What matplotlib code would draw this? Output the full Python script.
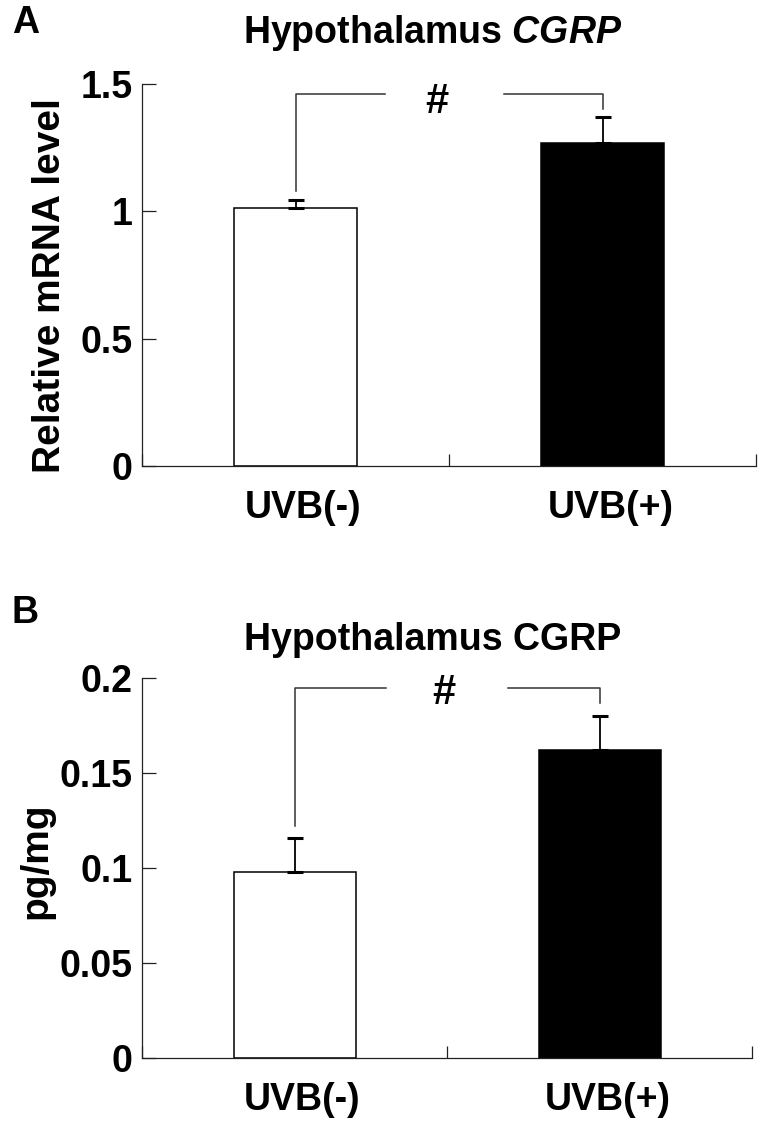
import matplotlib
matplotlib.use("Agg")
import matplotlib.pyplot as plt
import matplotlib.transforms as mtransforms

# data
groups = ["UVB(-)", "UVB(+)"]
bar_colors = ["white", "black"]

mrna_mean = [1.015, 1.27]
mrna_err = [0.03, 0.10]
mrna_ticks = [0, 0.5, 1, 1.5]
mrna_ticklabels = ["0", "0.5", "1", "1.5"]

protein_mean = [0.098, 0.162]
protein_err = [0.018, 0.018]
protein_ticks = [0, 0.05, 0.1, 0.15, 0.2]
protein_ticklabels = ["0", "0.05", "0.1", "0.15", "0.2"]

plt.rcParams["font.family"] = ["Liberation Sans", "DejaVu Sans"]
plt.rcParams["font.weight"] = "bold"
plt.rcParams["mathtext.fontset"] = "custom"
plt.rcParams["mathtext.it"] = "Liberation Sans:italic:bold"
plt.rcParams["mathtext.rm"] = "Liberation Sans:bold"

W, H = 764, 1128
fig = plt.figure(figsize=(W / 100, H / 100), dpi=100)


def px_axes(left, top, right, bottom):
    return fig.add_axes([left / W, 1 - bottom / H, (right - left) / W, (bottom - top) / H])


def draw_panel(ax, means, errs, ticks, ticklabels, br):
    x = list(range(len(groups)))
    ax.bar(x, means, width=0.4, color=bar_colors, edgecolor="black", linewidth=1.1, zorder=2)
    ax.errorbar(x, means, yerr=[[0] * len(errs), errs], fmt="none", ecolor="black",
                elinewidth=1.3, capsize=6, capthick=2.2, zorder=3)
    ax.set_xlim(-0.5, 1.5)
    ax.set_ylim(ticks[0], ticks[-1])
    for s in ["top", "right"]:
        ax.spines[s].set_visible(False)
    for s in ["left", "bottom"]:
        ax.spines[s].set_linewidth(0.9)
        ax.spines[s].set_color("#222222")

    ax.set_yticks(ticks)
    ax.set_yticklabels(ticklabels, fontsize=27, fontweight="bold")
    ax.tick_params(axis="y", direction="in", length=10, width=0.9, color="#222222", pad=7)
    ax.set_xticks([-0.5, 0.5, 1.5])
    ax.set_xticklabels([])
    ax.set_xticks(x, minor=True)
    ax.set_xticklabels(groups, minor=True, fontsize=27, fontweight="bold")
    ax.tick_params(axis="x", which="major", direction="in", length=9, width=0.9, color="#222222")
    ax.tick_params(axis="x", which="minor", length=0, pad=17)
    # the group labels sit a little right of the bar centres in the original
    shift = mtransforms.ScaledTranslation(8 / 100, 0, fig.dpi_scale_trans)
    for lab in ax.get_xticklabels(minor=True):
        lab.set_transform(lab.get_transform() + shift)

    # significance bracket
    ytop, ylo_l, ylo_r, gap_l, gap_r, xh, yh = br
    lc = "#333333"
    ax.plot([0, 0, gap_l], [ylo_l, ytop, ytop], color=lc, lw=1.1, zorder=1)
    ax.plot([gap_r, 1, 1], [ytop, ytop, ylo_r], color=lc, lw=1.1, zorder=1)
    ax.text(xh, yh, "#", ha="center", va="center", fontsize=30, fontweight="bold")


axA = px_axes(142, 84, 756, 466)
draw_panel(axA, mrna_mean, mrna_err, mrna_ticks, mrna_ticklabels,
           (1.46, 1.08, 1.40, 0.29, 0.68, 0.46, 1.43))

axB = px_axes(142, 678, 752, 1058)
draw_panel(axB, protein_mean, protein_err, protein_ticks, protein_ticklabels,
           (0.195, 0.122, 0.187, 0.30, 0.70, 0.49, 0.192))

# titles, axis labels and panel letters
fig.text(433 / W, 1 - 33 / H, r"Hypothalamus $\mathit{CGRP}$", ha="center", va="center",
         fontsize=27, fontweight="bold")
fig.text(433 / W, 1 - 640 / H, "Hypothalamus CGRP", ha="center", va="center",
         fontsize=27, fontweight="bold")
fig.text(50 / W, 1 - 286 / H, "Relative mRNA level", rotation=90, ha="center", va="center",
         fontsize=28, fontweight="bold")
fig.text(36 / W, 1 - 861 / H, "pg/mg", rotation=90, ha="center", va="center",
         fontsize=28, fontweight="bold")
fig.text(12 / W, 1 - 23 / H, "A", ha="left", va="center", fontsize=27, fontweight="bold")
fig.text(12 / W, 1 - 613 / H, "B", ha="left", va="center", fontsize=27, fontweight="bold")

fig.savefig("out.png", dpi=100, facecolor="white")
